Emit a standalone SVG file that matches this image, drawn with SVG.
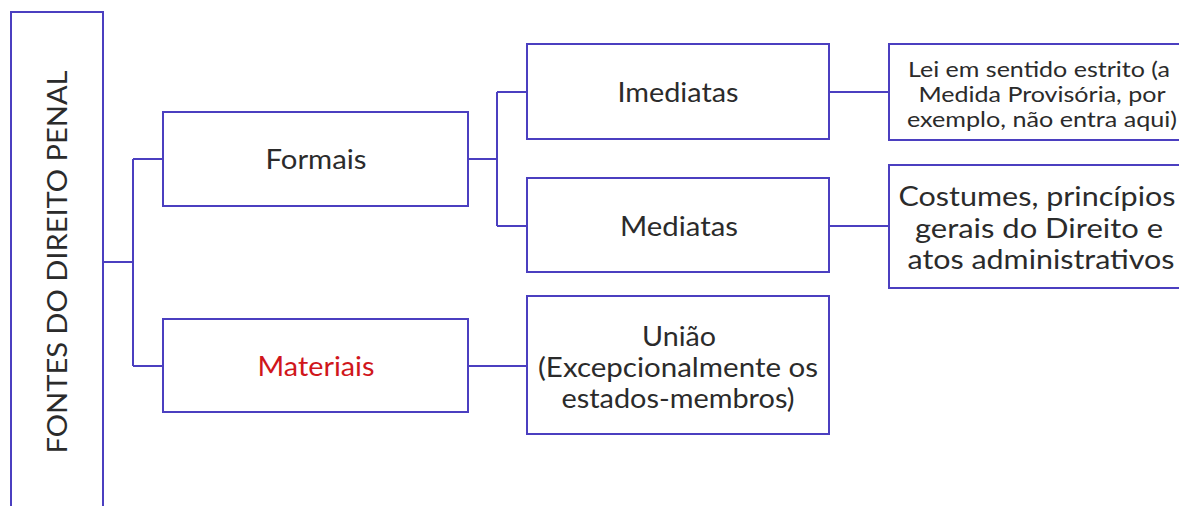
<svg xmlns="http://www.w3.org/2000/svg" width="1179" height="506" viewBox="0 0 1179 506">
<style>
.box{fill:#fff;stroke:#4b3fc0;stroke-width:2}
.ln{fill:none;stroke:#4b3fc0;stroke-width:2}
text{font-family:Lato,"Noto Sans",sans-serif;fill:#2b2b2b;text-anchor:middle}
.big{font-size:27px}
.sm{font-size:21px}
.red{fill:#d0161b}
</style>
<rect width="1179" height="506" fill="#fff"/>
<g id="connectors">
<path class="ln" d="M103 262H133M133 159V366M133 159H163M133 366H163"/>
<path class="ln" d="M468 159H497M497 92V226M497 92H527M497 226H527"/>
<path class="ln" d="M468 366H527"/>
<path class="ln" d="M829 92H889M829 226H889"/>
</g>
<g id="root">
<rect class="box" x="11" y="12" width="92" height="510"/>
<text class="big" transform="translate(67 262) rotate(-90)" x="0" y="0" textLength="383" lengthAdjust="spacingAndGlyphs">FONTES DO DIREITO PENAL</text>
</g>
<g id="formais">
<rect class="box" x="163" y="112" width="305" height="94"/>
<text class="big" x="316" y="169" textLength="101" lengthAdjust="spacingAndGlyphs">Formais</text>
</g>
<g id="materiais">
<rect class="box" x="163" y="319" width="305" height="93"/>
<text class="big red" x="316" y="376" textLength="117" lengthAdjust="spacingAndGlyphs">Materiais</text>
</g>
<g id="imediatas">
<rect class="box" x="527" y="44" width="302" height="95"/>
<text class="big" x="678" y="102" textLength="121" lengthAdjust="spacingAndGlyphs">Imediatas</text>
</g>
<g id="mediatas">
<rect class="box" x="527" y="178" width="302" height="94"/>
<text class="big" x="679" y="236" textLength="118" lengthAdjust="spacingAndGlyphs">Mediatas</text>
</g>
<g id="uniao">
<rect class="box" x="527" y="296" width="302" height="138"/>
<text class="big" x="679" y="346" textLength="74" lengthAdjust="spacingAndGlyphs">União</text>
<text class="big" x="678" y="377" textLength="280" lengthAdjust="spacingAndGlyphs">(Excepcionalmente os</text>
<text class="big" x="678" y="408" textLength="233" lengthAdjust="spacingAndGlyphs">estados-membros)</text>
</g>
<g id="lei">
<rect class="box" x="889" y="44" width="310" height="96"/>
<text class="sm" x="1039" y="77" textLength="262" lengthAdjust="spacingAndGlyphs">Lei em sentido estrito (a</text>
<text class="sm" x="1042" y="102" textLength="247" lengthAdjust="spacingAndGlyphs">Medida Provisória, por</text>
<text class="sm" x="1042" y="127" textLength="270" lengthAdjust="spacingAndGlyphs">exemplo, não entra aqui)</text>
</g>
<g id="costumes">
<rect class="box" x="889" y="165" width="310" height="123"/>
<text class="big" x="1037" y="206" textLength="277" lengthAdjust="spacingAndGlyphs">Costumes, princípios</text>
<text class="big" x="1039" y="238" textLength="248" lengthAdjust="spacingAndGlyphs">gerais do Direito e</text>
<text class="big" x="1041" y="269" textLength="267" lengthAdjust="spacingAndGlyphs">atos administrativos</text>
</g>
</svg>
